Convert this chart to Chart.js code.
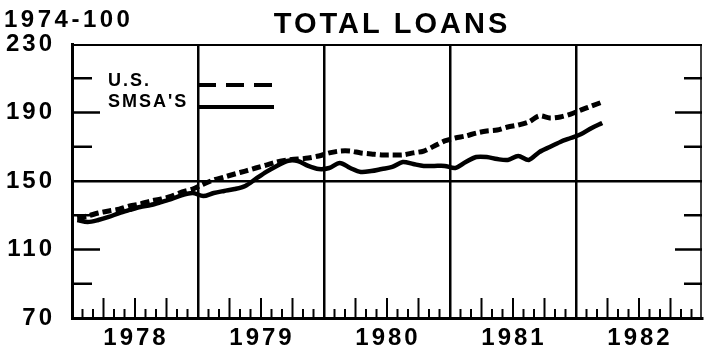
<!DOCTYPE html>
<html>
<head>
<meta charset="utf-8">
<script src="https://cdn.jsdelivr.net/npm/chart.js@4.4.0/dist/chart.umd.min.js"></script>
<style>
  html, body { margin: 0; padding: 0; background: #fff; }
  #wrap { width: 708px; height: 351px; }
</style>
</head>
<body>
<div id="wrap"><canvas id="loansChart" width="708" height="351"></canvas></div>
<script>
// Total loans, monthly index (1974 = 100), Jan 1978 through Mar 1982
const firstYear = 1978;
const usLoans = [
  128.4, 129.6, 131.3, 132.5, 133.6, 135.4, 136.6, 138.3, 139.5, 141.2, 143.6, 145.3,
  148.2, 150.6, 152.3, 154.1, 155.8, 157.6, 159.3, 161.1, 162.3, 162.8, 163.4, 164.6,
  166.4, 167.5, 167.5, 166.4, 165.8, 165.2, 165.2, 165.2, 166.4, 167.5, 170.4, 173.4,
  175.1, 176.3, 178.0, 179.2, 179.8, 181.5, 182.7, 184.5, 188.0, 186.8, 187.4, 189.1,
  191.5, 193.8, 196.1
];
const smsaLoans = [
  127.2, 126.1, 127.2, 129.0, 131.3, 133.1, 134.8, 136.0, 137.7, 139.5, 141.8, 143.0,
  141.2, 143.0, 144.2, 145.3, 147.1, 151.2, 155.3, 158.8, 161.7, 161.7, 158.8, 157.0,
  157.6, 160.5, 157.6, 155.3, 155.8, 157.0, 158.2, 161.1, 159.9, 158.8, 158.8, 158.8,
  157.6, 161.1, 164.0, 164.0, 162.8, 162.3, 164.6, 162.3, 166.9, 169.9, 172.8, 175.1,
  177.4, 181.0, 183.9
];
const yearTicks = [1978, 1979, 1980, 1981, 1982, 1983];
const valueTicks = [70, 110, 150, 190, 230];
const sideTicks = [90, 110, 130, 170, 190, 210];
const longSideTicks = [110, 190];

const FONT = '"Liberation Sans", Arial, sans-serif';

// each month plotted at its middle
const toPoints = vals => vals.map((v, i) => ({ x: firstYear + (i + 0.5) / 12, y: v }));

function seg(ctx, x1, y1, x2, y2) {
  ctx.beginPath();
  ctx.moveTo(x1, y1);
  ctx.lineTo(x2, y2);
  ctx.stroke();
}

const framePlugin = {
  id: 'frame',
  beforeDraw(chart) {
    chart.ctx.letterSpacing = '3px';
  },
  afterDraw(chart) {
    const { ctx, chartArea: a } = chart;
    const x = chart.scales.x, y = chart.scales.y;
    ctx.save();
    ctx.strokeStyle = '#000';
    ctx.fillStyle = '#000';
    ctx.lineCap = 'butt';

    // top and right edges of the frame
    ctx.lineWidth = 2;
    seg(ctx, a.left, a.top + 1, a.right, a.top + 1);
    ctx.lineWidth = 1.5;
    seg(ctx, a.right - 1, a.top, a.right - 1, a.bottom);

    // month ticks, taller every quarter
    ctx.lineWidth = 2;
    for (let yr = yearTicks[0]; yr < yearTicks[yearTicks.length - 1]; yr++) {
      for (let m = 1; m < 12; m++) {
        const px = x.getPixelForValue(yr + m / 12);
        const len = m % 3 === 0 ? 20 : 9;
        seg(ctx, px, a.bottom, px, a.bottom - len);
      }
    }

    // value ticks on both sides
    ctx.lineWidth = 2.5;
    sideTicks.forEach(v => {
      const py = y.getPixelForValue(v);
      const long = longSideTicks.includes(v);
      seg(ctx, a.left, py, a.left + (long ? 28 : 20), py);
      seg(ctx, a.right, py, a.right - (long ? 27 : 18), py);
    });

    // titles
    ctx.textBaseline = 'alphabetic';
    ctx.textAlign = 'left';
    ctx.letterSpacing = '3.5px';
    ctx.font = 'bold 24px ' + FONT;
    ctx.fillText('1974-100', 4, 27);
    ctx.letterSpacing = '3px';
    ctx.textAlign = 'center';
    ctx.font = 'bold 29px ' + FONT;
    ctx.fillText('TOTAL LOANS', 392, 33);

    // legend
    ctx.letterSpacing = '2px';
    ctx.textAlign = 'left';
    ctx.font = 'bold 18px ' + FONT;
    const ds = chart.data.datasets;
    ctx.fillText(ds[0].label, 108, 86);
    ctx.fillText(ds[1].label, 108, 107);
    ctx.lineWidth = 4;
    ctx.setLineDash([18, 10]);
    seg(ctx, 198, 85, 274, 85);
    ctx.setLineDash([]);
    seg(ctx, 198, 107, 274, 107);

    ctx.restore();
  }
};

const ctx = document.getElementById('loansChart').getContext('2d');
new Chart(ctx, {
  type: 'line',
  data: {
    datasets: [
      {
        label: 'U.S.',
        data: toPoints(usLoans),
        borderColor: '#000',
        borderWidth: 5,
        borderDash: [9, 4],
        pointRadius: 0,
        tension: 0.3,
        fill: false
      },
      {
        label: "SMSA'S",
        data: toPoints(smsaLoans),
        borderColor: '#000',
        borderWidth: 4.5,
        pointRadius: 0,
        tension: 0.3,
        fill: false
      }
    ]
  },
  options: {
    responsive: false,
    animation: false,
    layout: { padding: { top: 44, right: 0, bottom: 0, left: 0 } },
    plugins: {
      legend: { display: false },
      title: { display: false },
      tooltip: { enabled: false }
    },
    scales: {
      x: {
        type: 'linear',
        min: yearTicks[0],
        max: yearTicks[yearTicks.length - 1],
        afterBuildTicks: s => { s.ticks = yearTicks.map(v => ({ value: v })); },
        afterFit: s => { s.height = 33; },
        grid: {
          drawTicks: false,
          lineWidth: 2.5,
          color: c => (c.tick && c.tick.value > yearTicks[0] && c.tick.value < yearTicks[yearTicks.length - 1]) ? '#000' : 'rgba(0,0,0,0)'
        },
        border: { color: '#000', width: 3 },
        ticks: {
          padding: 6,
          labelOffset: 64,
          maxRotation: 0,
          autoSkip: false,
          color: '#000',
          font: { family: FONT, size: 24, weight: 'bold' },
          callback: v => v < yearTicks[yearTicks.length - 1] ? String(v) : ''
        }
      },
      y: {
        min: valueTicks[0],
        max: valueTicks[valueTicks.length - 1],
        afterBuildTicks: s => { s.ticks = valueTicks.map(v => ({ value: v })); },
        afterFit: s => { s.width = 72; },
        grid: {
          drawTicks: false,
          lineWidth: 2.5,
          color: c => (c.tick && c.tick.value === 150) ? '#000' : 'rgba(0,0,0,0)'
        },
        border: { color: '#000', width: 3 },
        ticks: {
          padding: 17,
          color: '#000',
          font: { family: FONT, size: 24, weight: 'bold' },
          callback: v => String(v)
        }
      }
    }
  },
  plugins: [framePlugin]
});
</script>
</body>
</html>
